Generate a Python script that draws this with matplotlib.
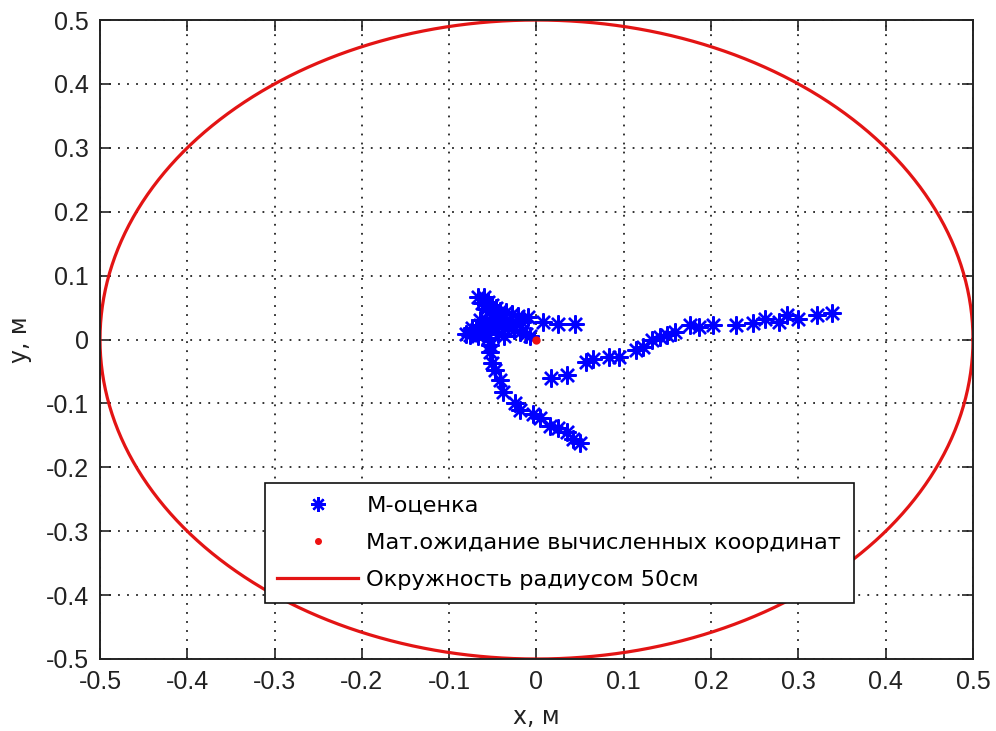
import numpy as np
import matplotlib
matplotlib.use("Agg")
import matplotlib.pyplot as plt

plt.rcParams['font.family'] = ['Liberation Sans', 'DejaVu Sans']
plt.rcParams['axes.unicode_minus'] = False

# M-estimates of the position (x, y in metres)
m_x = [
    -0.067, -0.060, -0.056, -0.051, -0.046, -0.042, -0.062, -0.053, -0.058,
    -0.076, -0.069, -0.065, -0.058, -0.051, -0.044, -0.037, -0.030, -0.023,
    -0.017, -0.010, -0.074, -0.067, -0.060, -0.053, -0.046, -0.040, -0.033,
    -0.026, -0.019, -0.012, -0.044, -0.037, -0.056, -0.065, -0.049, -0.035,
    -0.028, -0.021, -0.007, -0.081,
    0.007, 0.025, 0.044,
    -0.053, -0.053, -0.051, -0.048, -0.042, -0.038, -0.025, -0.019, -0.004,
    0.004, 0.015, 0.025, 0.035, 0.042, 0.050,
    0.017, 0.035, 0.057, 0.065, 0.083, 0.095, 0.114, 0.122, 0.132, 0.141,
    0.149, 0.159, 0.176, 0.186, 0.202, 0.229, 0.248, 0.262, 0.278, 0.287,
    0.300, 0.321, 0.338,
]
m_y = [
    0.067, 0.067, 0.059, 0.054, 0.049, 0.045, 0.057, 0.046, 0.048,
    0.007, 0.015, 0.023, 0.031, 0.034, 0.037, 0.034, 0.031, 0.027,
    0.027, 0.035, 0.018, 0.005, 0.012, 0.018, 0.024, 0.021, 0.018,
    0.015, 0.012, 0.009, 0.009, 0.005, 0.002, 0.031, 0.043, 0.043,
    0.040, 0.037, 0.005, 0.009,
    0.027, 0.025, 0.025,
    -0.009, -0.020, -0.037, -0.048, -0.063, -0.082, -0.100, -0.110, -0.116,
    -0.123, -0.136, -0.139, -0.144, -0.155, -0.162,
    -0.061, -0.056, -0.035, -0.031, -0.027, -0.027, -0.016, -0.011, -0.001, 0.004,
    0.007, 0.012, 0.023, 0.020, 0.023, 0.023, 0.026, 0.032, 0.028, 0.038,
    0.032, 0.038, 0.041,
]

# Mean of the computed coordinates
mean_x = [0.0]
mean_y = [0.0]

# Reference circle
radius = 0.5

ticks = [-0.5, -0.4, -0.3, -0.2, -0.1, 0.0, 0.1, 0.2, 0.3, 0.4, 0.5]
tick_labels = ['-0.5', '-0.4', '-0.3', '-0.2', '-0.1', '0',
               '0.1', '0.2', '0.3', '0.4', '0.5']

labels = ['М-оценка', 'Мат.ожидание вычисленных координат',
          'Окружность радиусом 50см']

fig = plt.figure(figsize=(9.96, 7.31), dpi=100)
ax = fig.add_axes([0.1004, 0.0985, 0.8765, 0.8741])

ax.plot(m_x, m_y, linestyle='none', marker=(8, 2, 0), markersize=13,
        markeredgewidth=1.7, color='#0000ff', label=labels[0], zorder=3)
ax.plot(mean_x, mean_y, linestyle='none', marker='o', markersize=5,
        color='#ee1111', label=labels[1], zorder=4)
theta = np.linspace(0, 2 * np.pi, 721)
ax.plot(radius * np.cos(theta), radius * np.sin(theta), color='#e31414',
        linewidth=2.3, label=labels[2], zorder=2)

ax.set_xlim(-0.5, 0.5)
ax.set_ylim(-0.5, 0.5)
ax.set_xticks(ticks)
ax.set_xticklabels(tick_labels)
ax.set_yticks(ticks)
ax.set_yticklabels(tick_labels)
ax.tick_params(direction='in', length=8, width=1.2, top=True, right=True,
               labelsize=18, pad=8, colors='#222222')
for s in ax.spines.values():
    s.set_linewidth(1.4)
    s.set_color('#222222')

ax.grid(True, color='#222222', linestyle=(0, (1, 4)), linewidth=1.3)
ax.set_axisbelow(True)

ax.set_xlabel('x, м', fontsize=17, labelpad=8, color='#222222',
              family='DejaVu Sans')
ax.set_ylabel('y, м', fontsize=17, labelpad=10, color='#222222',
              family='DejaVu Sans')

leg = ax.legend(loc='upper left', bbox_to_anchor=(0.189, 0.275),
                borderaxespad=0, fancybox=False, framealpha=1,
                prop={'family': 'DejaVu Sans', 'size': 16.2},
                edgecolor='#111111', handlelength=3.6, handletextpad=0.36,
                labelspacing=0.77, borderpad=0.55, markerscale=0.8)
leg.get_frame().set_linewidth(1.2)

fig.savefig('out.png', dpi=100)
